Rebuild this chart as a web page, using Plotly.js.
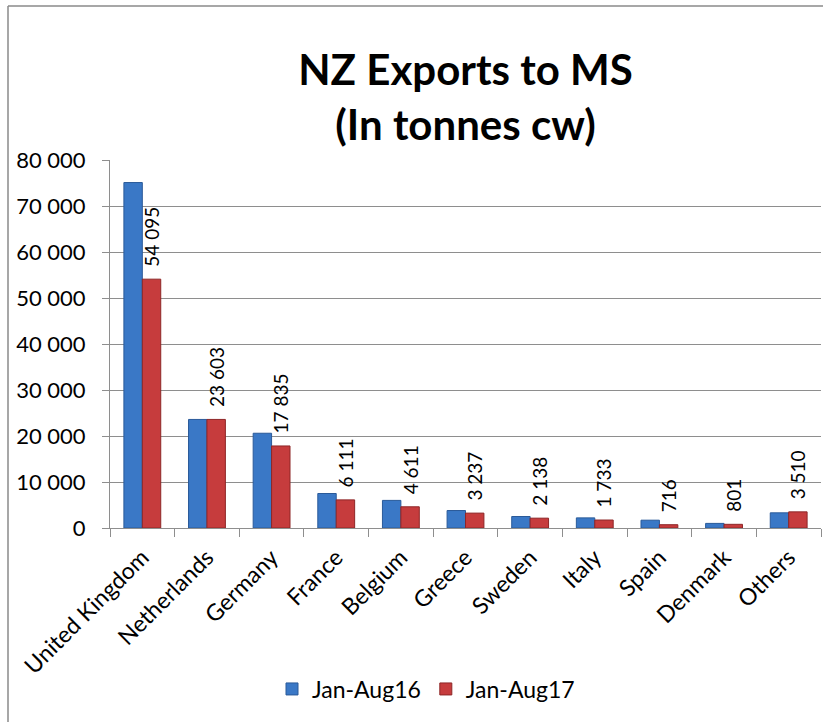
<!DOCTYPE html>
<html>
<head>
<meta charset="utf-8">
<script src="https://cdn.plot.ly/plotly-3.0.1.min.js"></script>
<style>
  html, body { margin: 0; padding: 0; background: #fff; }
  #chart { width: 823px; height: 722px; }
</style>
</head>
<body>
<div id="chart"></div>
<script>
const categories = ["United Kingdom", "Netherlands", "Germany", "France", "Belgium", "Greece", "Sweden", "Italy", "Spain", "Denmark", "Others"];
const jan_aug16 = [75100, 23600, 20600, 7500, 6000, 3800, 2500, 2200, 1700, 1000, 3300];
const jan_aug17 = [54095, 23603, 17835, 6111, 4611, 3237, 2138, 1733, 716, 801, 3510];
const yTickVals = [0, 10000, 20000, 30000, 40000, 50000, 60000, 70000, 80000];
const yTickText = ["0", "10 000", "20 000", "30 000", "40 000", "50 000", "60 000", "70 000", "80 000"];

function fmt(v) { return "\u2002" + String(v).replace(/\B(?=(\d{3})+(?!\d))/g, " "); }

const FONT = "Lato, 'Open Sans', 'DejaVu Sans', sans-serif";
const GRID = "#8e8e8e";

const traces = [
  {
    type: "bar", name: "Jan-Aug16", x: categories, y: jan_aug16,
    marker: { color: "#3a78c6", line: { color: "#2a5a99", width: 1 } },
    hoverinfo: "x+y"
  },
  {
    type: "bar", name: "Jan-Aug17", x: categories, y: jan_aug17,
    text: jan_aug17.map(fmt), textposition: "outside", textangle: -90,
    constraintext: "none",
    textfont: { family: FONT, size: 19, color: "#000" },
    cliponaxis: false,
    marker: { color: "#c63c3d", line: { color: "#8e2627", width: 1 } },
    hoverinfo: "x+y"
  }
];

const layout = {
  width: 823, height: 722,
  margin: { l: 110, r: 2, t: 160, b: 194 },
  paper_bgcolor: "#fff", plot_bgcolor: "#fff",
  font: { family: FONT, color: "#000" },
  barmode: "group", bargap: 0.43, bargroupgap: 0,
  title: {
    text: "<b>NZ Exports to MS</b><br><b>(In tonnes cw)</b>",
    font: { family: FONT, size: 42, color: "#000" },
    x: 0.5, xref: "paper", xanchor: "center",
    y: 1 - 85 / 722, yref: "container", yanchor: "middle"
  },
  xaxis: {
    type: "category", tickangle: -45, tickson: "boundaries",
    ticks: "outside", ticklen: 8, tickcolor: GRID, tickwidth: 1,
    showline: true, linecolor: GRID, linewidth: 1,
    showgrid: false, zeroline: false,
    ticklabelstandoff: 6,
    tickfont: { family: FONT, size: 23, color: "#000" }
  },
  yaxis: {
    range: [0, 80000], tickvals: yTickVals, ticktext: yTickText,
    ticks: "outside", ticklen: 7, tickcolor: GRID, tickwidth: 1,
    showline: true, linecolor: GRID, linewidth: 1,
    showgrid: true, gridcolor: GRID, gridwidth: 1, zeroline: false,
    ticklabelstandoff: 12,
    tickfont: { family: FONT, size: 22, color: "#000" }
  },
  legend: {
    orientation: "h", x: (426 - 110) / 711, xanchor: "center",
    y: (528 - 689) / 368, yanchor: "middle",
    font: { family: FONT, size: 23, color: "#000" },
    itemwidth: 30, tracegroupgap: 0
  },
  shapes: [
    { type: "line", xref: "paper", yref: "paper",
      x0: (8 - 110) / 711, x1: (830 - 110) / 711, y0: (528 - 6) / 368, y1: (528 - 6) / 368,
      line: { color: "#8a8a8a", width: 1.5 } },
    { type: "line", xref: "paper", yref: "paper",
      x0: (8 - 110) / 711, x1: (8 - 110) / 711, y0: (528 - 6) / 368, y1: (528 - 730) / 368,
      line: { color: "#8a8a8a", width: 1.5 } }
  ],
  showlegend: true
};

Plotly.newPlot("chart", traces, layout, { displayModeBar: false, staticPlot: true });
</script>
</body>
</html>
